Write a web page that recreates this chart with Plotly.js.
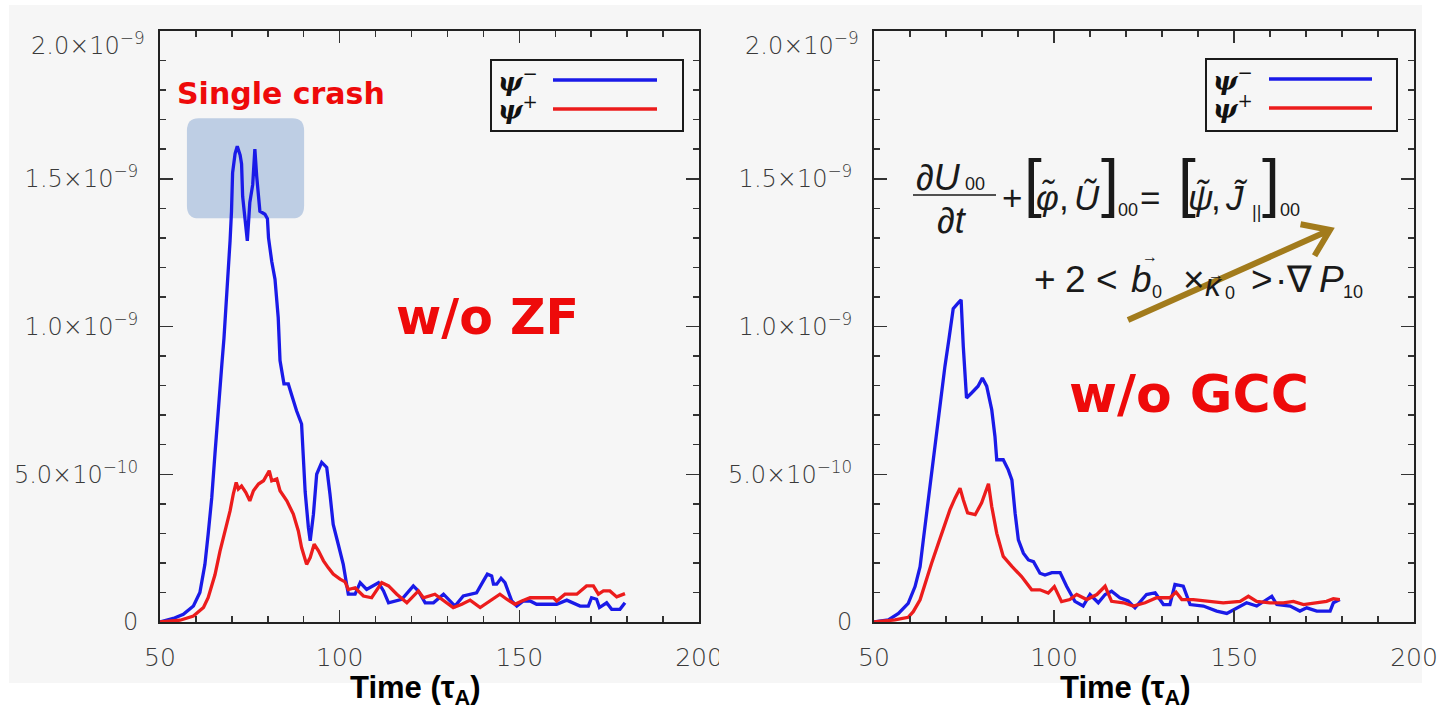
<!DOCTYPE html>
<html>
<head>
<meta charset="utf-8">
<script src="https://cdn.plot.ly/plotly-3.0.1.min.js"></script>
<style>
  html, body { margin: 0; padding: 0; background: #ffffff; }
  #chart { width: 1440px; height: 710px; }
</style>
</head>
<body>
<div id="chart"></div>
<script>
// Mode amplitudes of psi- / psi+ versus time (tau_A); amplitudes in units of 1e-10.

// --- run without zonal flow (w/o ZF) ---
const timeMinusZF = [50.0,53.7,56.5,59.3,61.1,62.5,63.4,64.4,65.3,66.2,67.2,67.8,68.6,69.0,69.5,69.9,70.2,70.9,71.5,72.3,72.7,73.0,73.7,74.3,75.0,75.8,76.4,76.9,77.8,79.2,79.9,80.2,81.1,81.6,82.0,82.9,83.4,84.5,85.7,86.6,88.0,89.4,89.9,90.4,91.3,91.8,92.7,93.6,95.0,96.4,97.3,98.2,99.6,101.0,102.4,104.3,105.7,107.5,110.8,112.2,113.6,117.3,120.5,121.9,123.8,126.1,128.9,132.1,134.4,138.1,140.0,141.1,142.3,142.8,143.7,144.9,146.0,147.9,149.3,151.1,153.0,154.8,160.4,163.2,166.9,169.2,170.1,171.5,172.3,174.3,175.7,178.0,179.4];
const psiMinusZF  = [0,0.12,0.26,0.54,1.0,1.95,2.97,4.2,5.7,7.26,8.7,9.6,11.0,11.9,12.9,13.9,15.2,15.85,16.1,15.8,15.5,14.4,13.7,12.9,14.2,14.8,16.0,15.1,13.9,13.8,13.65,13.0,12.2,11.9,11.6,10.3,8.85,8.06,8.06,7.7,7.15,6.7,5.46,4.4,3.2,2.75,3.65,5.0,5.4,5.23,4.33,3.3,2.63,1.95,0.94,0.94,1.33,1.1,1.33,1.05,0.65,0.77,1.22,1.05,0.65,0.65,0.94,0.54,0.88,0.99,1.39,1.62,1.56,1.28,1.28,1.48,1.33,0.71,0.54,0.71,0.71,0.6,0.6,0.74,0.54,0.54,0.82,0.77,0.49,0.65,0.43,0.43,0.65];

const timePlusZF = [50.0,55.6,59.3,62.1,63.4,65.3,66.7,68.1,69.5,70.4,71.2,71.8,72.7,73.9,75.0,76.0,77.4,78.8,79.7,80.4,81.1,82.5,83.4,85.3,87.1,88.5,89.4,90.8,91.8,92.9,94.1,95.5,96.8,98.2,100.1,101.5,102.4,104.3,106.6,108.9,111.7,113.6,115.9,118.7,121.9,123.3,126.5,129.3,131.6,134.0,136.3,139.1,141.8,144.6,146.5,148.8,150.7,153.0,159.5,160.4,162.7,166.0,168.7,170.6,172.0,173.4,175.2,177.1,179.4];
const psiPlusZF  = [0,0.06,0.2,0.49,0.82,1.6,2.4,3.1,3.76,4.33,4.72,4.5,4.6,4.38,4.1,4.44,4.67,4.78,5.0,5.12,4.78,4.84,4.44,4.1,3.65,3.08,2.52,1.95,2.18,2.63,2.41,2.07,1.84,1.62,1.45,1.36,1.1,1.16,0.88,0.82,1.33,1.22,0.94,0.65,1.05,0.82,0.94,0.71,0.49,0.6,0.74,0.49,0.71,0.94,0.77,0.6,0.71,0.82,0.82,0.71,0.94,0.94,1.22,1.22,0.94,1.05,1.05,0.85,0.96];

// --- run without geodesic curvature coupling (w/o GCC) ---
const timeMinusGCC = [50.0,54.0,56.8,59.5,61.4,62.8,63.7,64.6,65.6,66.5,67.4,68.3,69.7,70.8,72.0,73.4,74.2,74.8,75.7,77.1,78.9,80.1,81.3,82.7,83.6,84.1,85.9,87.3,88.3,89.2,90.1,91.5,92.9,94.3,96.1,97.5,99.4,101.7,103.5,105.8,108.1,110.0,112.3,114.2,116.0,118.3,120.6,122.5,125.7,128.1,130.4,132.2,133.6,135.9,137.8,141.5,145.2,148.0,150.7,153.5,156.3,158.6,160.5,161.9,165.6,168.3,170.2,173.0,176.7,177.6,179.4];
const psiMinusGCC  = [0,0.07,0.29,0.63,1.2,1.87,2.78,3.68,4.59,5.49,6.4,7.41,8.65,9.56,10.6,10.8,10.9,9.33,7.58,7.75,7.98,8.26,7.98,7.19,6.28,5.49,5.49,5.15,4.81,3.68,2.78,2.33,2.1,2.04,1.65,1.59,1.67,1.67,1.21,0.7,0.54,0.93,0.65,0.93,1.04,0.82,0.71,0.48,0.93,0.99,0.59,0.59,1.27,1.21,0.59,0.54,0.37,0.29,0.48,0.65,0.54,0.71,0.87,0.59,0.54,0.37,0.48,0.37,0.37,0.65,0.76];

const timePlusGCC = [50.0,55.8,59.5,60.9,62.8,64.2,66.0,67.9,69.7,71.1,72.5,73.9,74.8,76.0,78.1,79.9,81.8,82.7,84.1,85.9,88.3,91.0,93.8,96.1,98.4,100.1,102.1,104.4,106.3,109.1,111.9,114.2,116.0,119.3,122.0,125.3,128.5,132.2,133.9,135.5,138.7,142.4,147.0,151.7,154.0,156.3,160.0,163.7,166.5,169.3,173.0,175.7,177.6,179.4];
const psiPlusGCC  = [0,0.07,0.16,0.35,0.75,1.31,1.99,2.67,3.35,3.8,4.19,4.53,4.14,3.69,3.63,4.03,4.68,3.91,3.0,2.22,1.88,1.54,1.09,1.09,0.98,1.2,0.69,0.76,0.93,0.76,0.93,1.21,0.7,0.65,0.54,0.65,0.82,0.82,1.01,0.76,0.76,0.7,0.65,0.7,0.87,0.7,0.65,0.65,0.7,0.59,0.65,0.7,0.79,0.76];

// axis ticks (the top label 2.0×10^-9 is set just under the frame, as an annotation)
const xTickVals = [50, 100, 150, 200];
const xTickText = ['50', '100', '150', '200'];
const yTickVals = [0, 5e-10, 1e-9, 1.5e-9, 2e-9];
const yTickText = ['0', '5.0×10<sup>−10</sup>', '1.0×10<sup>−9</sup>', '1.5×10<sup>−9</sup>', ''];
const yTopLabel = '2.0×10<sup>−9</sup>';

const UNIT = 1e-10;
const toSI = arr => arr.map(v => v * UNIT);

const BLUE = '#1a1ae8';
const RED = '#ec1c1c';
const PANEL = '#f6f6f6';
const GOLD = '#a27b1c';
const INK = '#1a1a1a';

// page geometry (pixels -> paper fractions)
const W = 1440, H = 710;
const px = x => x / W;
const py = y => 1 - y / H;

const tickFontY = { family: 'DejaVu Sans', size: 24, color: '#3a3a3a', weight: 300 };

function xAxis(domain) {
  return {
    domain: domain, range: [50, 200], fixedrange: true,
    showgrid: false, zeroline: false,
    showline: true, linecolor: '#222', linewidth: 2, mirror: 'ticks',
    ticks: 'inside', ticklen: 12, tickwidth: 1.5, tickcolor: '#333',
    tickmode: 'array', tickvals: xTickVals, ticktext: xTickText,
    ticklabelstandoff: 12,
    minor: { ticks: 'inside', ticklen: 6, tickwidth: 1.5, tickcolor: '#333', tickmode: 'linear', tick0: 50, dtick: 10 },
    tickfont: { family: 'DejaVu Sans', size: 25, color: '#3a3a3a', weight: 300 }
  };
}
function yAxis(domain, anchor) {
  return {
    domain: domain, range: [0, 2e-9], fixedrange: true, anchor: anchor,
    showgrid: false, zeroline: false,
    showline: true, linecolor: '#222', linewidth: 2, mirror: 'ticks',
    ticks: 'inside', ticklen: 13, tickwidth: 1.5, tickcolor: '#333',
    tickmode: 'array', tickvals: yTickVals, ticktext: yTickText,
    ticklabelstandoff: 15,
    minor: { ticks: 'inside', ticklen: 6, tickwidth: 1.5, tickcolor: '#333', tickmode: 'linear', tick0: 0, dtick: 1e-10 },
    tickfont: tickFontY
  };
}

const line = (color) => ({ color: color, width: 3.3 });

const traces = [
  { x: timeMinusZF, y: toSI(psiMinusZF), xaxis: 'x', yaxis: 'y', mode: 'lines', line: line(BLUE), name: 'ψ−' },
  { x: timePlusZF, y: toSI(psiPlusZF), xaxis: 'x', yaxis: 'y', mode: 'lines', line: line(RED), name: 'ψ+' },
  { x: timeMinusGCC, y: toSI(psiMinusGCC), xaxis: 'x2', yaxis: 'y2', mode: 'lines', line: line(BLUE), name: 'ψ−' },
  { x: timePlusGCC, y: toSI(psiPlusGCC), xaxis: 'x2', yaxis: 'y2', mode: 'lines', line: line(RED), name: 'ψ+' }
];

// rounded rectangle (data coordinates) highlighting the double-peaked crash
function roundedRect(x0, x1, y0, y1, rx, ry) {
  return `M ${x0 + rx},${y0} L ${x1 - rx},${y0} Q ${x1},${y0} ${x1},${y0 + ry} ` +
         `L ${x1},${y1 - ry} Q ${x1},${y1} ${x1 - rx},${y1} L ${x0 + rx},${y1} ` +
         `Q ${x0},${y1} ${x0},${y1 - ry} L ${x0},${y0 + ry} Q ${x0},${y0} ${x0 + rx},${y0} Z`;
}

// arrow drawn in page pixels
function arrowPath(sx, sy, ex, ey, head, angleDeg) {
  const dx = ex - sx, dy = ey - sy, L = Math.hypot(dx, dy);
  const ux = -dx / L, uy = -dy / L;
  const a = angleDeg * Math.PI / 180;
  const r = (s) => [ex + head * (ux * Math.cos(s * a) - uy * Math.sin(s * a)),
                    ey + head * (ux * Math.sin(s * a) + uy * Math.cos(s * a))];
  const p1 = r(1), p2 = r(-1);
  const P = (x, y) => `${px(x)},${py(y)}`;
  return `M ${P(sx, sy)} L ${P(ex, ey)} M ${P(p1[0], p1[1])} L ${P(ex, ey)} L ${P(p2[0], p2[1])}`;
}

function legendShapes(x0, x1, y0, y1, lx0, lx1, yb, yr) {
  return [
    { type: 'rect', xref: 'paper', yref: 'paper', x0: px(x0), x1: px(x1), y0: py(y1), y1: py(y0),
      line: { color: INK, width: 2 }, fillcolor: PANEL, layer: 'above' },
    { type: 'line', xref: 'paper', yref: 'paper', x0: px(lx0), x1: px(lx1), y0: py(yb), y1: py(yb),
      line: { color: BLUE, width: 3.3 }, layer: 'above' },
    { type: 'line', xref: 'paper', yref: 'paper', x0: px(lx0), x1: px(lx1), y0: py(yr), y1: py(yr),
      line: { color: RED, width: 3.3 }, layer: 'above' }
  ];
}

const shapes = [
  // panel backgrounds
  { type: 'rect', xref: 'paper', yref: 'paper', x0: px(9), x1: px(1422), y0: py(683), y1: py(5),
    fillcolor: PANEL, line: { width: 0 }, layer: 'below' },
  // right panel edge trimming the left panel's last tick label
  { type: 'rect', xref: 'paper', yref: 'paper', x0: px(719), x1: px(736), y0: py(683), y1: py(636),
    fillcolor: PANEL, line: { width: 0 }, layer: 'above' },
  // highlight box
  { type: 'path', xref: 'x', yref: 'y', layer: 'below',
    path: roundedRect(57.5, 90.1, 13.66e-10, 17.05e-10, 3.3, 0.42e-10),
    fillcolor: 'rgba(168,190,220,0.72)', line: { width: 0 } },
  ...legendShapes(491, 683, 60, 131, 553, 657, 80, 109),
  ...legendShapes(1206, 1397, 59, 131, 1269, 1372, 79, 108),
  // fraction bar of the vorticity equation
  { type: 'line', xref: 'paper', yref: 'paper', x0: px(913), x1: px(996), y0: py(195), y1: py(195),
    line: { color: INK, width: 1.5 }, layer: 'above' },
  // gold arrow
  { type: 'path', xref: 'paper', yref: 'paper', layer: 'above',
    path: arrowPath(1128, 320, 1330, 230, 30, 35),
    line: { color: GOLD, width: 6 } }
];

function note(text, x, y, opts) {
  return Object.assign({
    text: text, xref: 'paper', yref: 'paper', x: px(x), y: py(y),
    xanchor: 'left', yanchor: 'middle', showarrow: false
  }, opts || {});
}

// Vorticity equation, set glyph by glyph: [text, centre x, baseline y, font size]
const eqGlyphs = [
  ['∂<i>U</i>', 938, 190, 36], ['00', 975, 190, 18],
  ['∂<i>t</i>', 952, 233, 36],
  ['+', 1012, 210, 35], ['[', 1033, 205, 64], ['<i>φ̃</i>', 1047, 210, 35], [',', 1064, 210, 35],
  ['<i>Ũ</i>', 1087, 210, 35], [']', 1110, 205, 64], ['00', 1128, 216, 18],
  ['=', 1150, 210, 35], ['[', 1187, 205, 64], ['<i>ψ̃</i>', 1200, 210, 35], [',', 1216, 210, 35],
  ['<i>J̃</i>', 1236, 210, 35], ['||', 1256, 218, 18], [']', 1271, 205, 64], ['00', 1290, 216, 18],
  ['+', 1045, 292, 37], ['2', 1075, 292, 37], ['&lt;', 1107, 292, 37],
  ['<i>b</i>', 1141, 292, 37], ['0', 1157, 298, 18], ['→', 1150, 262, 16],
  ['×', 1194, 292, 37], ['<i>κ</i>', 1214, 296, 32], ['0', 1230, 299, 18], ['→', 1216, 280, 16],
  ['&gt;', 1262, 292, 37], ['·', 1281, 292, 37], ['∇', 1299, 292, 37],
  ['<i>P</i>', 1331, 292, 37], ['10', 1353, 298, 18]
];
const eqNotes = eqGlyphs.map(([t, x, base, s]) =>
  note(t, x, base - 0.35 * s, { xanchor: 'center', font: { family: 'Liberation Sans', size: s, color: INK } }));

const redFont = (size) => ({ family: 'DejaVu Sans', size: size, color: '#ee0a0a' });
const legFont = { family: 'DejaVu Serif', size: 26, color: '#111' };
const titleFont = { family: 'Liberation Sans', size: 31, color: '#000' };

const annotations = [
  // top y tick labels, dropped just below the upper frame line
  note(yTopLabel, 147, 44, { xanchor: 'right', font: tickFontY }),
  note(yTopLabel, 861, 44, { xanchor: 'right', font: tickFontY }),

  note('<b>Single crash</b>', 175, 93, { font: redFont(30) }),
  note('<b>w/o ZF</b>', 394, 317, { font: redFont(49) }),
  note('<b>w/o GCC</b>', 1067, 394, { font: redFont(52) }),

  note('<b>Time (τ<sub>A</sub>)</b>', 416, 690, { xanchor: 'center', font: titleFont }),
  note('<b>Time (τ<sub>A</sub>)</b>', 1125, 690, { xanchor: 'center', font: titleFont }),

  note('<b><i>ψ</i></b><sup>−</sup>', 496, 80, { font: legFont }),
  note('<b><i>ψ</i></b><sup>+</sup>', 496, 108, { font: legFont }),
  note('<b><i>ψ</i></b><sup>−</sup>', 1211, 79, { font: legFont }),
  note('<b><i>ψ</i></b><sup>+</sup>', 1211, 107, { font: legFont }),
  ...eqNotes
];

const layout = {
  width: W, height: H, autosize: false,
  margin: { l: 0, r: 0, t: 0, b: 0, pad: 0 },
  paper_bgcolor: '#ffffff', plot_bgcolor: PANEL,
  showlegend: false,
  xaxis: Object.assign(xAxis([px(160), px(699)]), { anchor: 'y' }),
  yaxis: yAxis([py(622), py(31)], 'x'),
  xaxis2: Object.assign(xAxis([px(874), px(1414)]), { anchor: 'y2' }),
  yaxis2: yAxis([py(622), py(31)], 'x2'),
  shapes: shapes,
  annotations: annotations
};

Plotly.newPlot('chart', traces, layout, { staticPlot: true, displayModeBar: false });
</script>
</body>
</html>
